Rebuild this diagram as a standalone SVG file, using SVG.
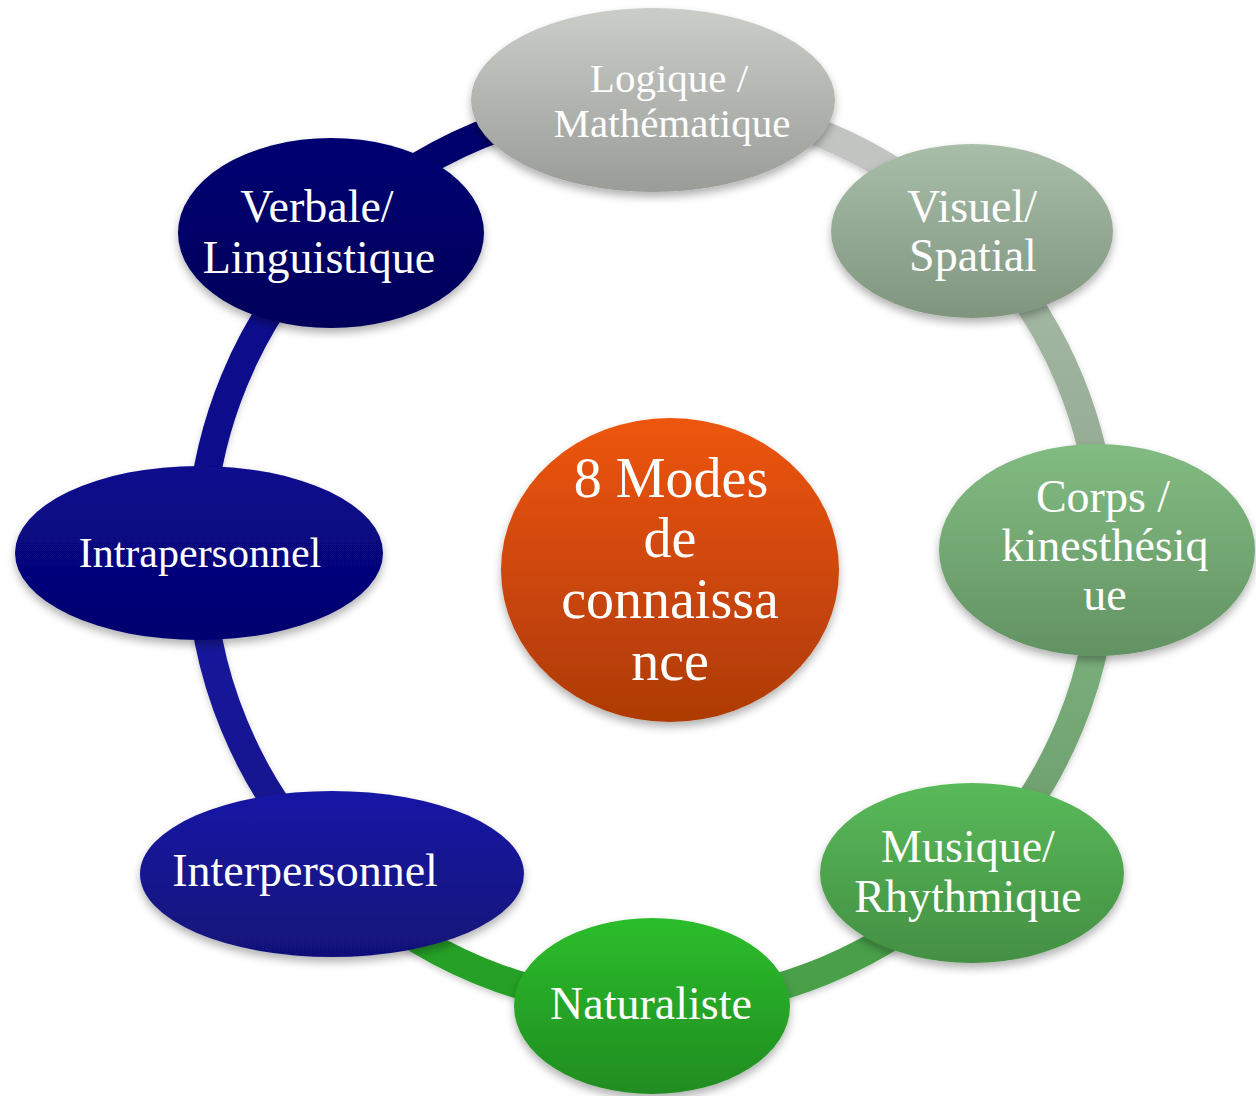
<svg xmlns="http://www.w3.org/2000/svg" width="1256" height="1096" viewBox="0 0 1256 1096">
  <defs>
    <filter id="sh" x="-10%" y="-10%" width="120%" height="130%">
      <feDropShadow dx="0" dy="5" stdDeviation="4" flood-color="#000" flood-opacity="0.3"/>
    </filter>
    <filter id="shl" x="-10%" y="-10%" width="120%" height="130%">
      <feDropShadow dx="0" dy="3" stdDeviation="3" flood-color="#000" flood-opacity="0.2"/>
    </filter>
    <linearGradient id="gLog" x1="0" y1="0" x2="0" y2="1"><stop offset="0" stop-color="#cbcdc9"/><stop offset="1" stop-color="#9a9c98"/></linearGradient>
    <linearGradient id="gVis" x1="0" y1="0" x2="0" y2="1"><stop offset="0" stop-color="#a9bea9"/><stop offset="1" stop-color="#7f957e"/></linearGradient>
    <linearGradient id="gCor" x1="0" y1="0" x2="0" y2="1"><stop offset="0" stop-color="#82bc82"/><stop offset="1" stop-color="#639263"/></linearGradient>
    <linearGradient id="gMus" x1="0" y1="0" x2="0" y2="1"><stop offset="0" stop-color="#59ba59"/><stop offset="1" stop-color="#438f43"/></linearGradient>
    <linearGradient id="gNat" x1="0" y1="0" x2="0" y2="1"><stop offset="0" stop-color="#2cbe2c"/><stop offset="1" stop-color="#208c20"/></linearGradient>
    <linearGradient id="gInter" x1="0" y1="0" x2="0" y2="1"><stop offset="0" stop-color="#1919a6"/><stop offset="1" stop-color="#111178"/></linearGradient>
    <linearGradient id="gIntra" x1="0" y1="0" x2="0" y2="1"><stop offset="0" stop-color="#09098e"/><stop offset="1" stop-color="#04046e"/></linearGradient>
    <linearGradient id="gVer" x1="0" y1="0" x2="0" y2="1"><stop offset="0" stop-color="#060672"/><stop offset="1" stop-color="#02025a"/></linearGradient>
    <linearGradient id="gCen" x1="0" y1="0" x2="0" y2="1"><stop offset="0" stop-color="#ee550a"/><stop offset="1" stop-color="#ad3a06"/></linearGradient>
    <linearGradient id="aVis" gradientUnits="userSpaceOnUse" x1="0" y1="230" x2="0" y2="555"><stop offset="0" stop-color="#a8bca8"/><stop offset="1" stop-color="#8da58d"/></linearGradient>
    <linearGradient id="aCor" gradientUnits="userSpaceOnUse" x1="0" y1="555" x2="0" y2="875"><stop offset="0" stop-color="#7fb67f"/><stop offset="1" stop-color="#6c9a6c"/></linearGradient>
    <linearGradient id="aInter" gradientUnits="userSpaceOnUse" x1="0" y1="553" x2="0" y2="875"><stop offset="0" stop-color="#1616a2"/><stop offset="1" stop-color="#13138a"/></linearGradient>
  </defs>
  <style>
    .arc { fill: none; stroke-width: 28; }
    .node { filter: url(#sh); }
    .lbl { font-family: "Liberation Serif", "Times New Roman", serif; fill: #ffffff; text-anchor: middle; font-size: 46px; }
  </style>

  <g id="connectors" filter="url(#shl)">
    <path class="arc" stroke="#03036c" d="M 332.4 233.4 A 452 452 0 0 1 652 101"/>
    <path class="arc" stroke="#c2c4c1" d="M 652 101 A 452 452 0 0 1 971.6 233.4"/>
    <path class="arc" stroke="url(#aVis)" d="M 971.6 233.4 A 452 452 0 0 1 1104 553"/>
    <path class="arc" stroke="url(#aCor)" d="M 1104 553 A 452 452 0 0 1 971.6 872.6"/>
    <path class="arc" stroke="#4aa04a" d="M 971.6 872.6 A 452 452 0 0 1 652 1005"/>
    <path class="arc" stroke="#28a028" d="M 652 1005 A 452 452 0 0 1 332.4 872.6"/>
    <path class="arc" stroke="url(#aInter)" d="M 332.4 872.6 A 452 452 0 0 1 200 553"/>
    <path class="arc" stroke="#08088c" d="M 200 553 A 452 452 0 0 1 332.4 233.4"/>
  </g>

  <g id="logique">
    <ellipse class="node" cx="653" cy="100" rx="182" ry="92" fill="url(#gLog)"/>
    <text class="lbl" style="font-size:41px"><tspan x="669" y="92">Logique /</tspan><tspan x="672" y="137">Mathématique</tspan></text>
  </g>
  <g id="visuel">
    <ellipse class="node" cx="972" cy="231" rx="141" ry="87" fill="url(#gVis)"/>
    <text class="lbl"><tspan x="972" y="222">Visuel/</tspan><tspan x="973" y="271">Spatial</tspan></text>
  </g>
  <g id="corps">
    <ellipse class="node" cx="1097" cy="550" rx="158" ry="106" fill="url(#gCor)"/>
    <text class="lbl"><tspan x="1103" y="512">Corps /</tspan><tspan x="1105" y="561">kinesthésiq</tspan><tspan x="1105" y="610">ue</tspan></text>
  </g>
  <g id="musique">
    <ellipse class="node" cx="972" cy="873" rx="152" ry="90" fill="url(#gMus)"/>
    <text class="lbl"><tspan x="968" y="862">Musique/</tspan><tspan x="968" y="912">Rhythmique</tspan></text>
  </g>
  <g id="naturaliste">
    <ellipse class="node" cx="652" cy="1006" rx="138" ry="88" fill="url(#gNat)"/>
    <text class="lbl"><tspan x="651" y="1019">Naturaliste</tspan></text>
  </g>
  <g id="interpersonnel">
    <ellipse class="node" cx="332" cy="874" rx="192" ry="83" fill="url(#gInter)"/>
    <text class="lbl"><tspan x="305" y="886">Interpersonnel</tspan></text>
  </g>
  <g id="intrapersonnel">
    <ellipse class="node" cx="199" cy="553" rx="184" ry="87" fill="url(#gIntra)"/>
    <text class="lbl" style="font-size:42px"><tspan x="200" y="567">Intrapersonnel</tspan></text>
  </g>
  <g id="verbale">
    <ellipse class="node" cx="331" cy="233" rx="153" ry="95" fill="url(#gVer)"/>
    <text class="lbl"><tspan x="317" y="222">Verbale/</tspan><tspan x="319" y="273">Linguistique</tspan></text>
  </g>
  <g id="centre">
    <ellipse class="node" cx="670" cy="570" rx="169" ry="152" fill="url(#gCen)"/>
    <text class="lbl" style="font-size:56px"><tspan x="671" y="497">8 Modes</tspan><tspan x="670" y="557">de</tspan><tspan x="670" y="618">connaissa</tspan><tspan x="670" y="680">nce</tspan></text>
  </g>
</svg>
